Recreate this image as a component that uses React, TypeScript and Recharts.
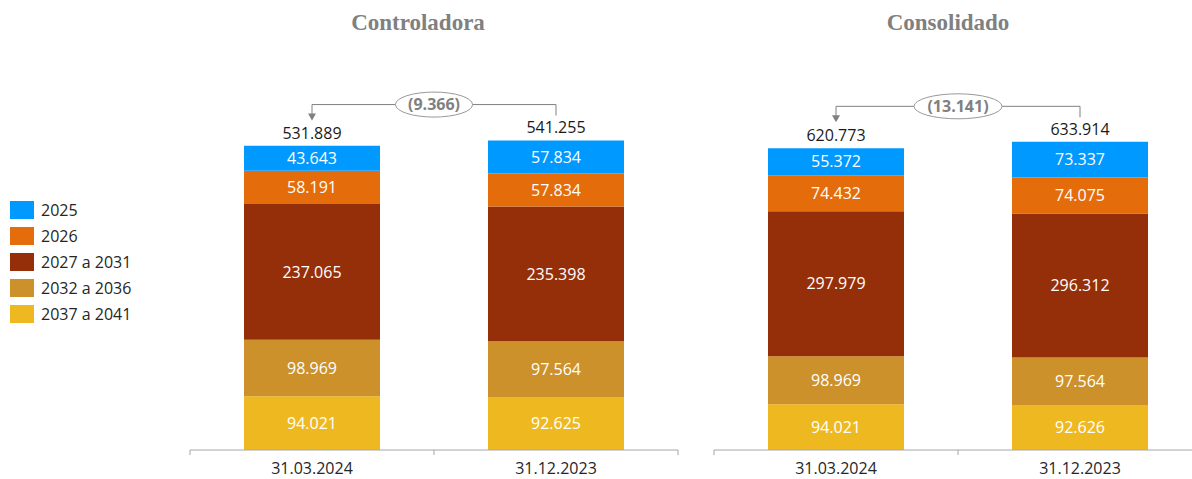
import React from "react";
import { Bar, BarChart, LabelList, ReferenceLine, XAxis, YAxis } from "recharts";

// values in R$ thousand
const categories = ["31.03.2024", "31.12.2023"];

const seriesNames = ["2037 a 2041", "2032 a 2036", "2027 a 2031", "2026", "2025"];
const seriesColors = ["#EEB920", "#CC912B", "#952F0A", "#E46C0A", "#0099FF"];

const ctrl2037_2041 = [94021, 92625];
const ctrl2032_2036 = [98969, 97564];
const ctrl2027_2031 = [237065, 235398];
const ctrl2026 = [58191, 57834];
const ctrl2025 = [43643, 57834];
const ctrlTotals = [531889, 541255];

const cons2037_2041 = [94021, 92626];
const cons2032_2036 = [98969, 97564];
const cons2027_2031 = [297979, 296312];
const cons2026 = [74432, 74075];
const cons2025 = [55372, 73337];
const consTotals = [620773, 633914];

const PLOT_W = 488;
const BAND = PLOT_W / categories.length;

const fmt = (v: any) => {
  const n = Number(v);
  const s = Math.abs(n).toString().replace(/\B(?=(\d{3})+(?!\d))/g, ".");
  return n < 0 ? `(${s})` : s;
};

const buildRows = (series: number[][], totals: number[]) =>
  categories.map((name, i) => {
    const row: any = { name, total: totals[i] };
    series.forEach((s, k) => (row[`s${k}`] = s[i]));
    return row;
  });

const ctrlData = buildRows(
  [ctrl2037_2041, ctrl2032_2036, ctrl2027_2031, ctrl2026, ctrl2025],
  ctrlTotals
);
const consData = buildRows(
  [cons2037_2041, cons2032_2036, cons2027_2031, cons2026, cons2025],
  consTotals
);

const AxisTick = (props: any) => {
  const { x, y, payload, index } = props;
  const last = index === categories.length - 1;
  return (
    <g>
      <line x1={x - BAND / 2} x2={x - BAND / 2} y1={y - 5} y2={y} stroke="#A6A6A6" />
      {last && <line x1={x + BAND / 2} x2={x + BAND / 2} y1={y - 5} y2={y} stroke="#A6A6A6" />}
      <text x={x} y={y + 19} textAnchor="middle" fill="#262626" fontSize={16}>
        {payload.value}
      </text>
    </g>
  );
};

const makeBracket = (label: string) => (props: any) => {
  const { x1, y1, x2 } = props;
  const mid = (x1 + x2) / 2;
  const rx = label.length * 5.5;
  return (
    <g>
      <path d={`M${x1},${y1 + 10} V${y1} H${x2} V${y1 + 11}`} stroke="#808080" fill="none" />
      <path d={`M${x1 - 4},${y1 + 9} L${x1 + 4},${y1 + 9} L${x1},${y1 + 16} Z`} fill="#808080" />
      <ellipse cx={mid} cy={y1} rx={rx} ry={12.5} fill="#fff" stroke="#999999" />
      <text x={mid} y={y1} dy="0.35em" textAnchor="middle" fill="#808080" fontSize={16} fontWeight="bold">
        {label}
      </text>
    </g>
  );
};

interface PanelProps {
  title: string;
  data: any[];
  totals: number[];
  yMax: number;
  bracketY: number;
  left: number;
  titleCenter: number;
}

const Panel = ({ title, data, totals, yMax, bracketY, left, titleCenter }: PanelProps) => (
  <>
    <div
      style={{
        position: "absolute",
        left: titleCenter - 200,
        width: 400,
        top: 10,
        textAlign: "center",
        fontFamily: "'Liberation Serif', serif",
        fontWeight: "bold",
        fontSize: 23,
        color: "#808080",
      }}
    >
      {title}
    </div>
    <div style={{ position: "absolute", left: left - 2, top: 0 }}>
      <BarChart
        width={PLOT_W + 4}
        height={479}
        data={data}
        margin={{ top: 100, right: 2, left: 2, bottom: 0 }}
      >
        <XAxis
          dataKey="name"
          height={29}
          stroke="#A6A6A6"
          tickLine={false}
          tickSize={5}
          tickMargin={0}
          tick={<AxisTick />}
          interval={0}
        />
        <YAxis hide domain={[0, yMax]} />
        {seriesNames.map((s, k) => (
          <Bar
            key={s}
            dataKey={`s${k}`}
            name={s}
            stackId="a"
            fill={seriesColors[k]}
            barSize={136}
            isAnimationActive={false}
          >
            <LabelList dataKey={`s${k}`} position="center" fill="#fff" fontSize={16} formatter={fmt} />
            {k === seriesNames.length - 1 && (
              <LabelList dataKey="total" position="top" offset={7} fill="#1a1a1a" fontSize={16} formatter={fmt} />
            )}
          </Bar>
        ))}
        <ReferenceLine
          ifOverflow="visible"
          segment={[
            { x: categories[0], y: bracketY },
            { x: categories[1], y: bracketY },
          ]}
          shape={makeBracket(fmt(totals[0] - totals[1]))}
        />
      </BarChart>
    </div>
  </>
);

export default function App() {
  return (
    <div
      style={{
        position: "relative",
        width: 1192,
        height: 479,
        overflow: "hidden",
        background: "#fff",
        fontFamily: "'Open Sans', sans-serif",
      }}
    >
      <style>{"body{margin:0}"}</style>
      <div style={{ position: "absolute", left: 10, top: 197, fontSize: 16, color: "#262626" }}>
        {[...seriesNames].reverse().map((s, i) => (
          <div key={s} style={{ display: "flex", alignItems: "center", height: 26 }}>
            <div
              style={{
                width: 24,
                height: 18,
                background: seriesColors[seriesNames.length - 1 - i],
                marginRight: 7,
              }}
            />
            <span>{s}</span>
          </div>
        ))}
      </div>
      <Panel
        title="Controladora"
        data={ctrlData}
        totals={ctrlTotals}
        yMax={612000}
        bracketY={604000}
        left={190}
        titleCenter={418}
      />
      <Panel
        title="Consolidado"
        data={consData}
        totals={consTotals}
        yMax={720000}
        bracketY={707000}
        left={714}
        titleCenter={948}
      />
    </div>
  );
}
